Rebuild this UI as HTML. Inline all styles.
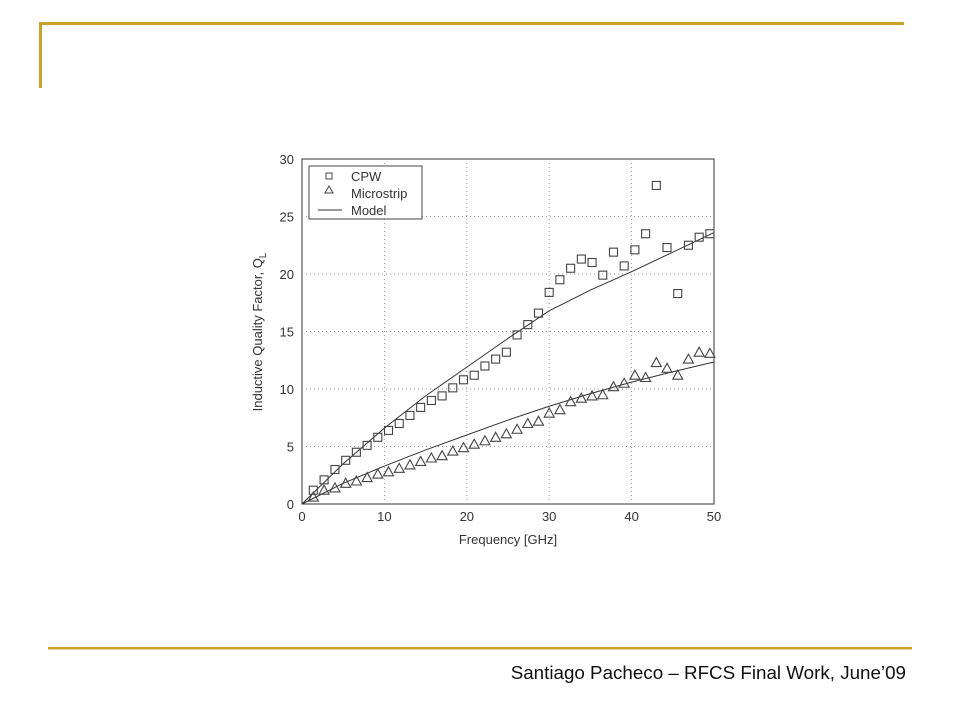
<!DOCTYPE html>
<html><head><meta charset="utf-8"><style>
html,body{margin:0;padding:0;background:#fff;}
svg{display:block;font-family:"Liberation Sans",Arial,sans-serif;}
</style></head><body>
<svg id="s" width="960" height="720" viewBox="0 0 960 720">
<rect x="39" y="22" width="865" height="3" fill="#C9A22A"/>
<rect x="39" y="22" width="3" height="66" fill="#C9A22A"/>
<rect x="48" y="647" width="864" height="2.5" fill="#C9A22A"/>
<text x="906" y="679" text-anchor="end" font-size="18.8" fill="#111">Santiago Pacheco – RFCS Final Work, June’09</text>
<g id="chart"></g>
</svg>
<script>
const freqs=[1.37,2.68,4.0,5.3,6.6,7.9,9.2,10.5,11.8,13.1,14.4,15.7,17.0,18.3,19.6,20.9,22.2,23.5,24.8,26.1,27.4,28.7,30.0,31.3,32.6,33.9,35.2,36.5,37.8,39.1,40.4,41.7,43.0,44.3,45.6,46.9,48.2,49.5];
const cpw=[1.2,2.1,3.0,3.8,4.5,5.1,5.8,6.4,7.0,7.7,8.4,9.0,9.4,10.1,10.8,11.2,12.0,12.6,13.2,14.7,15.6,16.6,18.4,19.5,20.5,21.3,21.0,19.9,21.9,20.7,22.1,23.5,27.7,22.3,18.3,22.5,23.2,23.5];
const micro=[0.6,1.2,1.4,1.8,2.0,2.3,2.6,2.8,3.1,3.4,3.7,4.0,4.2,4.6,4.9,5.2,5.5,5.8,6.1,6.5,7.0,7.2,7.9,8.2,8.9,9.2,9.4,9.5,10.2,10.5,11.2,11.0,12.3,11.8,11.2,12.6,13.2,13.1];
const modelF=[0,5,10,15,20,25,30,35,40,45,50];
const modelCpw=[0,3.5,6.6,9.4,11.9,14.4,16.8,18.6,20.2,21.9,23.6];
const modelMicro=[0,1.8,3.3,4.7,6.0,7.3,8.5,9.6,10.6,11.5,12.35];
const xTicks=[0,10,20,30,40,50];
const yTicks=[0,5,10,15,20,25,30];
const X0=302,X1=714,Y0=504,Y1=159;
const xs=v=>X0+(v/50)*(X1-X0);
const ys=v=>Y0-(v/30)*(Y0-Y1);
const NS="http://www.w3.org/2000/svg";
const g=document.getElementById('chart');
function mk(t,a,p){const e=document.createElementNS(NS,t);for(const k in a)e.setAttribute(k,a[k]);(p||g).appendChild(e);return e;}
let e;
e=mk('rect',{x:X0,y:Y1,width:X1-X0,height:Y0-Y1,fill:'#fff',stroke:'#333','stroke-width':1});


xTicks.forEach(t=>{
 if(t>0&&t<50){e=mk('line',{x1:xs(t),x2:xs(t),y1:Y0,y2:Y1,stroke:'#999','stroke-dasharray':'1,3'});
 
 }
 e=mk('text',{x:xs(t),y:Y0+17,'text-anchor':'middle','font-size':13,fill:'#333'});e.textContent=t;
 
 
});
yTicks.forEach(t=>{
 if(t>0&&t<30){e=mk('line',{x1:X0,x2:X1,y1:ys(t),y2:ys(t),stroke:'#999','stroke-dasharray':'1,3'});
 
 }
 e=mk('text',{x:X0-8,y:ys(t)+5,'text-anchor':'end','font-size':13,fill:'#333'});e.textContent=t;
 
 
});
e=mk('text',{x:(X0+X1)/2,y:544,'text-anchor':'middle','font-size':13,fill:'#333'});e.textContent='Frequency [GHz]';


e=mk('text',{x:0,y:0,'text-anchor':'middle','font-size':13,fill:'#333',transform:'translate(262,332) rotate(-90)'});
e.innerHTML='Inductive Quality Factor, Q<tspan dy="4" font-size="10">L</tspan>';


function line(fs,vs,name){e=mk('polyline',{points:fs.map((f,i)=>xs(f)+','+ys(vs[i])).join(' '),fill:'none',stroke:'#333','stroke-width':1,'stroke-linejoin':'round'});
 
 }
line(modelF,modelCpw,'model-cpw-line');
line(modelF,modelMicro,'model-microstrip-line');
freqs.forEach((f,i)=>{
 e=mk('rect',{x:xs(f)-4,y:ys(cpw[i])-4,width:8,height:8,fill:'none',stroke:'#444','stroke-width':1.1});
 
 
 const cx=xs(f),cy=ys(micro[i]);
 e=mk('polygon',{points:`${cx},${cy-5} ${cx-5},${cy+4} ${cx+5},${cy+4}`,fill:'none',stroke:'#444','stroke-width':1.1});
 
 
});
const lg=mk('g',{});


mk('rect',{x:309,y:166,width:113,height:53,fill:'#fff',stroke:'#444','stroke-width':1},lg);
mk('rect',{x:326,y:173,width:6,height:6,fill:'none',stroke:'#444'},lg);
mk('polygon',{points:'329,186 325,193 333,193',fill:'none',stroke:'#444'},lg);
mk('line',{x1:318,x2:342,y1:210,y2:210,stroke:'#333'},lg);
[['CPW',181],['Microstrip',198],['Model',215]].forEach(([t,y])=>{e=mk('text',{x:351,y:y,'font-size':13,fill:'#333'},lg);e.textContent=t;
 
 });
</script>
</body></html>
